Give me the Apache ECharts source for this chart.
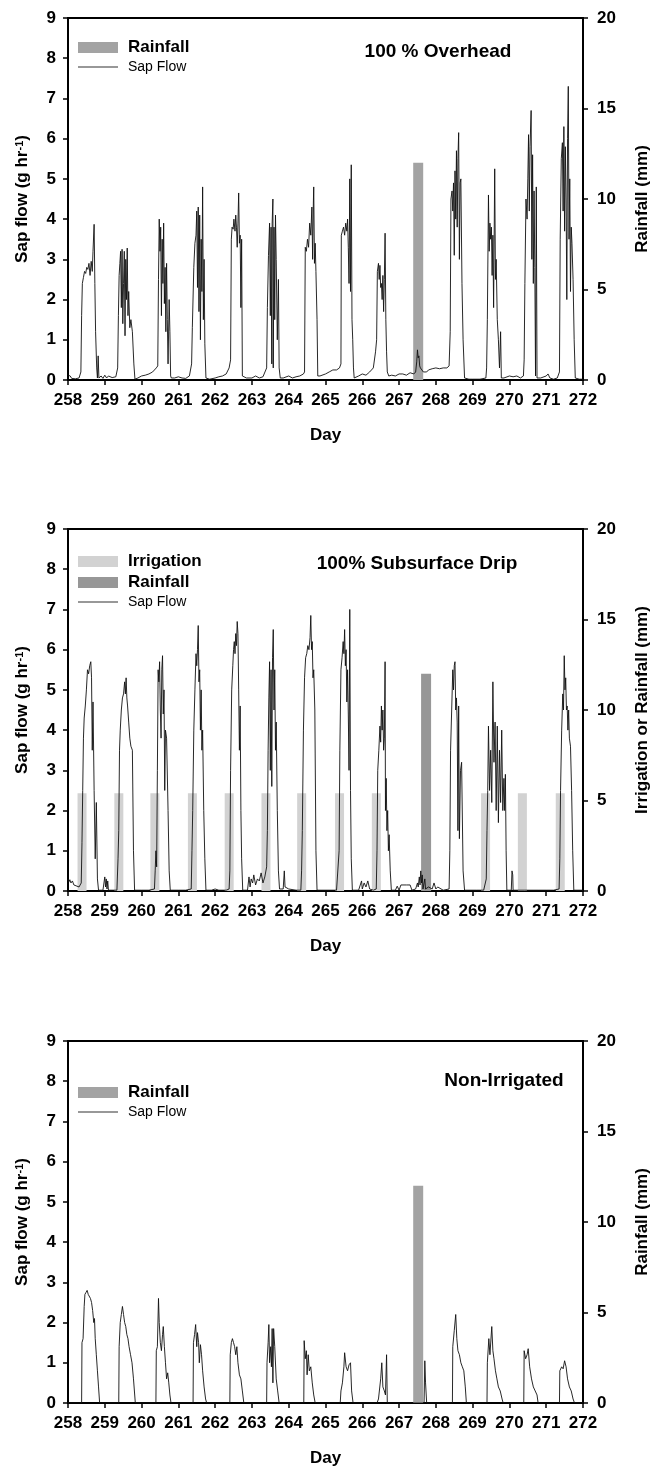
<!DOCTYPE html>
<html>
<head>
<meta charset="utf-8">
<script src="https://cdn.jsdelivr.net/npm/echarts@6/dist/echarts.min.js"></script>
<style>
  html, body { margin: 0; padding: 0; background: #fff; }
  #chart { width: 661px; height: 1468px; }
</style>
</head>
<body>
<div id="chart"></div>
<script>
// axis ranges / ticks
var dayRange = [258, 272];
var flowRange = [0, 9];
var mmRange = [0, 20];
var mmStep = 5;

// bars (mm), [day, value]
var rainOverhead = [[267.52, 12]];
var rainDrip = [[267.6, 12]];
var irrigDrip = [
    [258.53, 5.4], [259.53, 5.4], [260.51, 5.4], [261.53, 5.4], [262.53, 5.4], [263.53, 5.4],
    [264.5, 5.4], [265.53, 5.4], [266.53, 5.4], [269.5, 5.4], [270.5, 5.4], [271.53, 5.4]
];
var rainNonIrr = [[267.52, 12]];

// sap flow (g/hr), [day, value]
var overheadSap = [
[258.00,0.12],[258.03,0.08],[258.06,0.1],[258.1,0.04],[258.2,0.03],[258.3,0.05],
[258.35,0.2],[258.37,1.6],[258.39,2.4],[258.42,2.55],[258.45,2.7],[258.48,2.65],[258.51,2.8],[258.54,2.75],[258.57,2.9],[258.60,2.6],[258.63,2.95],[258.66,2.7],[258.68,3.2],[258.71,3.87],[258.73,2.4],[258.75,1.2],[258.78,0.3],[258.80,0.05],[258.82,0.6],[258.84,0.05],
[258.9,0.1],[258.95,0.04],[259.0,0.12],[259.05,0.05],[259.1,0.1],[259.2,0.06],[259.3,0.08],
[259.35,0.3],[259.37,1.6],[259.39,2.6],[259.41,2.9],[259.43,3.2],[259.45,1.8],[259.47,3.25],[259.49,1.4],[259.51,2.4],[259.53,3.2],[259.55,1.1],[259.57,3.0],[259.59,2.0],[259.61,3.28],[259.63,1.6],[259.65,2.2],[259.68,1.3],[259.71,1.5],[259.75,1.2],[259.79,0.4],[259.82,0.02],
[259.9,0.05],[260.0,0.1],[260.1,0.12],[260.2,0.15],[260.3,0.2],[260.4,0.3],
[260.44,0.35],[260.46,2.5],[260.48,4.0],[260.50,3.2],[260.52,3.8],[260.54,1.6],[260.56,3.5],[260.58,2.4],[260.60,3.9],[260.62,1.9],[260.64,2.8],[260.66,1.2],[260.68,2.9],[260.70,1.5],[260.72,0.4],[260.75,2.0],[260.77,1.2],[260.79,0.1],[260.81,0.05],
[260.9,0.05],[261.0,0.08],[261.1,0.05],[261.2,0.04],[261.3,0.1],
[261.36,0.4],[261.38,1.3],[261.42,2.8],[261.45,3.4],[261.48,3.6],[261.50,4.2],[261.52,2.3],[261.54,4.3],[261.56,1.7],[261.58,4.1],[261.60,1.0],[261.62,3.5],[261.64,2.2],[261.66,4.8],[261.68,1.5],[261.70,3.0],[261.72,0.9],[261.75,0.05],
[261.85,0.02],[262.0,0.05],[262.1,0.08],[262.2,0.1],[262.3,0.15],[262.38,0.3],
[262.42,0.5],[262.44,3.5],[262.46,3.8],[262.49,3.75],[262.51,4.0],[262.54,3.7],[262.56,4.1],[262.58,3.8],[262.60,3.3],[262.62,3.9],[262.64,4.65],[262.66,3.4],[262.68,3.6],[262.70,1.8],[262.72,3.5],[262.74,0.1],
[262.85,0.05],[263.0,0.05],[263.1,0.1],[263.2,0.05],[263.3,0.08],
[263.40,0.3],[263.42,1.8],[263.45,3.1],[263.48,3.9],[263.50,1.6],[263.52,3.8],[263.54,0.4],[263.55,3.9],[263.57,4.5],[263.58,0.3],[263.60,3.8],[263.62,1.5],[263.64,4.1],[263.66,3.0],[263.69,1.0],[263.72,2.5],[263.74,0.3],[263.77,0.05],
[263.85,0.05],[264.0,0.1],[264.1,0.05],[264.2,0.08],[264.3,0.1],[264.4,0.15],
[264.43,0.2],[264.45,3.3],[264.48,3.2],[264.51,3.5],[264.54,3.3],[264.57,3.9],[264.60,3.6],[264.63,4.3],[264.65,3.0],[264.67,4.4],[264.68,4.8],[264.70,2.9],[264.72,3.4],[264.74,2.7],[264.77,1.5],[264.79,0.1],
[264.85,0.1],[264.9,0.12],[265.0,0.15],[265.1,0.2],[265.2,0.25],[265.3,0.25],[265.38,0.3],
[265.42,0.4],[265.43,3.6],[265.46,3.7],[265.49,3.8],[265.52,3.6],[265.55,3.9],[265.58,3.7],[265.60,4.0],[265.62,3.3],[265.64,2.4],[265.66,5.0],[265.68,2.2],[265.70,5.35],[265.72,1.5],[265.74,1.0],[265.76,0.3],[265.78,0.05],
[265.9,0.1],[266.0,0.15],[266.1,0.12],[266.2,0.2],[266.3,0.3],[266.36,0.7],
[266.39,1.0],[266.41,2.7],[266.44,2.9],[266.46,2.5],[266.48,2.85],[266.50,2.3],[266.52,2.4],[266.54,2.0],[266.56,2.6],[266.58,1.7],[266.60,2.5],[266.62,3.65],[266.64,1.5],[266.66,0.7],[266.68,0.2],[266.72,0.1],
[266.8,0.12],[266.9,0.1],[267.0,0.15],[267.1,0.15],[267.2,0.12],[267.3,0.18],[267.4,0.15],
[267.45,0.2],[267.48,0.45],[267.50,0.75],[267.52,0.55],[267.54,0.6],[267.56,0.35],[267.58,0.3],[267.62,0.25],[267.66,0.2],[267.7,0.22],[267.75,0.2],[267.8,0.25],[267.9,0.28],[268.0,0.3],[268.1,0.28],[268.2,0.3],[268.3,0.3],[268.36,0.35],
[268.39,1.2],[268.41,4.5],[268.44,4.7],[268.46,4.2],[268.48,4.9],[268.50,3.1],[268.52,5.2],[268.54,4.0],[268.56,5.7],[268.58,3.8],[268.60,5.5],[268.62,6.15],[268.64,3.0],[268.66,4.9],[268.68,5.0],[268.71,2.4],[268.74,1.0],[268.78,0.05],
[268.9,0.02],[269.0,0.02],[269.2,0.02],[269.36,0.05],
[269.38,0.3],[269.40,1.5],[269.43,4.6],[269.45,3.2],[269.47,3.9],[269.49,3.5],[269.51,3.8],[269.53,2.6],[269.55,3.6],[269.57,1.8],[269.60,5.25],[269.62,2.5],[269.64,3.0],[269.67,1.5],[269.70,1.0],[269.73,0.3],[269.76,1.2],[269.78,0.05],
[269.85,0.05],[270.0,0.1],[270.1,0.08],[270.2,0.1],[270.3,0.05],[270.38,0.1],
[270.40,0.5],[270.42,2.4],[270.45,4.5],[270.48,4.0],[270.50,5.0],[270.52,6.1],[270.54,4.2],[270.56,5.8],[270.59,6.7],[270.61,3.0],[270.63,5.6],[270.65,2.4],[270.67,4.7],[270.69,2.8],[270.71,0.1],[270.73,4.8],[270.75,0.05],
[270.85,0.05],[271.0,0.1],[271.05,0.15],[271.1,0.05],[271.2,0.02],[271.3,0.05],
[271.36,0.2],[271.38,3.5],[271.41,5.5],[271.44,5.9],[271.46,4.2],[271.48,6.3],[271.50,3.7],[271.52,5.8],[271.54,4.5],[271.56,2.0],[271.58,6.0],[271.60,7.3],[271.62,3.5],[271.64,5.0],[271.66,2.2],[271.68,3.8],[271.70,3.4],[271.73,2.5],[271.76,1.0],[271.79,0.05],[271.9,0.02],[272.0,0.02]
];

var dripSap = [
[258.00,0.3],[258.02,0.22],[258.05,0.28],[258.08,0.2],[258.12,0.25],[258.16,0.15],[258.2,0.12],[258.3,0.1],
[258.36,0.2],[258.38,1.2],[258.40,2.5],[258.42,3.8],[258.44,4.3],[258.47,4.6],[258.50,5.0],[258.53,5.5],[258.56,5.4],[258.59,5.6],[258.62,5.7],[258.64,5.3],[258.66,3.5],[258.68,4.7],[258.71,2.5],[258.74,0.8],[258.77,2.2],[258.80,0.3],[258.83,0.02],
[258.95,0.02],[258.98,0.05],[259.0,0.35],[259.02,0.1],[259.04,0.3],[259.06,0.05],[259.08,0.25],[259.1,0.02],[259.2,0.02],[259.33,0.02],
[259.36,0.8],[259.38,1.5],[259.40,3.5],[259.42,4.0],[259.45,4.5],[259.48,4.8],[259.51,4.9],[259.54,5.2],[259.56,4.9],[259.58,5.3],[259.60,4.8],[259.62,4.6],[259.65,4.2],[259.68,3.8],[259.71,3.6],[259.75,3.5],[259.78,1.0],[259.81,0.02],
[260.0,0.02],[260.2,0.02],[260.35,0.05],
[260.37,0.5],[260.39,1.0],[260.41,0.6],[260.43,3.0],[260.45,5.5],[260.47,5.2],[260.49,5.7],[260.51,4.5],[260.53,3.8],[260.55,5.5],[260.57,5.85],[260.59,4.4],[260.61,5.0],[260.63,2.5],[260.65,4.0],[260.68,3.8],[260.72,2.0],[260.75,0.5],[260.78,0.02],
[261.0,0.02],[261.2,0.02],[261.35,0.05],
[261.37,1.0],[261.39,2.0],[261.42,4.0],[261.45,5.0],[261.48,5.9],[261.50,5.6],[261.52,6.0],[261.54,6.6],[261.56,5.2],[261.58,5.5],[261.60,4.0],[261.62,5.0],[261.64,3.5],[261.66,4.0],[261.69,2.0],[261.72,0.8],[261.75,0.02],
[261.9,0.02],[262.0,0.05],[262.1,0.02],[262.3,0.02],[262.38,0.05],
[262.40,0.5],[262.42,3.0],[262.45,5.0],[262.48,5.6],[262.50,6.0],[262.52,6.2],[262.54,5.9],[262.56,6.4],[262.58,6.1],[262.60,6.7],[262.62,6.4],[262.64,5.0],[262.66,3.5],[262.68,4.6],[262.70,2.0],[262.72,0.8],[262.75,0.02],
[262.88,0.02],[262.92,0.35],[262.95,0.1],[262.98,0.3],[263.02,0.2],[263.05,0.4],[263.1,0.15],[263.15,0.3],[263.2,0.25],[263.25,0.45],[263.3,0.2],[263.35,0.35],
[263.40,0.6],[263.42,1.5],[263.44,3.5],[263.46,4.8],[263.48,5.7],[263.50,3.0],[263.52,5.5],[263.54,2.6],[263.56,5.8],[263.58,6.5],[263.60,4.5],[263.62,5.5],[263.64,3.5],[263.66,4.2],[263.69,2.0],[263.72,0.5],[263.75,0.05],
[263.85,0.05],[263.88,0.5],[263.9,0.1],[264.0,0.05],[264.2,0.02],[264.33,0.02],
[264.35,0.5],[264.37,1.5],[264.40,4.0],[264.43,5.3],[264.46,5.8],[264.49,5.9],[264.52,6.1],[264.55,6.0],[264.58,6.3],[264.60,6.85],[264.62,6.0],[264.64,6.2],[264.66,5.3],[264.68,5.5],[264.71,4.5],[264.74,1.0],[264.77,0.02],
[264.9,0.02],[265.1,0.02],[265.3,0.02],[265.35,0.05],
[265.37,1.0],[265.39,3.5],[265.42,5.5],[265.45,5.8],[265.48,6.2],[265.50,5.9],[265.52,6.5],[265.54,5.6],[265.56,6.0],[265.58,4.7],[265.60,5.5],[265.62,4.4],[265.64,3.0],[265.66,7.0],[265.68,2.5],[265.70,0.8],[265.73,0.02],
[265.9,0.02],[265.98,0.25],[266.0,0.05],[266.05,0.2],[266.1,0.1],[266.15,0.25],[266.2,0.05],[266.3,0.02],[266.38,0.05],
[266.40,1.0],[266.42,3.0],[266.45,3.5],[266.48,4.1],[266.50,3.7],[266.52,4.6],[266.54,4.0],[266.56,4.5],[266.58,3.5],[266.60,3.8],[266.62,5.7],[266.63,2.0],[266.65,2.8],[266.67,1.5],[266.69,2.0],[266.71,1.0],[266.73,1.4],[266.76,0.5],[266.79,0.02],
[266.9,0.02],[266.95,0.12],[267.0,0.02],[267.05,0.15],[267.1,0.15],[267.2,0.15],[267.3,0.15],[267.35,0.02],
[267.45,0.05],[267.5,0.2],[267.52,0.1],[267.55,0.35],[267.57,0.15],[267.59,0.5],[267.61,0.2],[267.63,0.4],[267.65,0.05],[267.7,0.3],[267.72,0.05],[267.8,0.1],[267.9,0.05],[267.95,0.2],[268.0,0.05],[268.05,0.1],[268.2,0.02],[268.36,0.05],
[268.38,1.0],[268.40,3.5],[268.43,4.5],[268.46,5.5],[268.48,5.0],[268.50,5.6],[268.52,5.7],[268.54,4.5],[268.56,4.8],[268.58,4.2],[268.60,1.5],[268.62,4.6],[268.64,1.3],[268.67,3.0],[268.70,3.2],[268.74,0.5],[268.78,0.02],
[268.9,0.02],[269.1,0.02],[269.3,0.02],[269.35,0.05],
[269.37,0.3],[269.39,1.5],[269.41,2.5],[269.43,4.1],[269.46,2.5],[269.49,3.5],[269.52,2.2],[269.55,5.2],[269.58,3.2],[269.61,4.2],[269.64,2.0],[269.67,4.1],[269.70,1.7],[269.73,3.5],[269.76,2.2],[269.79,4.0],[269.82,2.0],[269.85,2.8],[269.87,2.0],[269.89,2.9],[269.91,1.0],[269.93,0.02],
[270.05,0.02],[270.07,0.5],[270.09,0.4],[270.1,0.02],[270.4,0.02],[270.8,0.02],[271.0,0.02],[271.2,0.02],[271.35,0.05],
[271.37,0.8],[271.39,2.5],[271.42,4.0],[271.45,4.9],[271.47,4.5],[271.49,5.85],[271.51,5.0],[271.53,5.3],[271.55,4.5],[271.57,4.6],[271.59,4.0],[271.61,4.5],[271.63,3.8],[271.66,3.6],[271.69,2.5],[271.72,1.0],[271.75,0.02],[272.0,0.02]
];

var nonIrrSap = [
[258.0,0],[258.37,0],[258.38,1.5],[258.41,1.6],[258.44,2.4],[258.46,2.7],[258.49,2.75],[258.52,2.8],[258.55,2.7],[258.58,2.72],[258.61,2.6],[258.64,2.5],[258.67,2.3],[258.70,2.0],[258.72,2.1],[258.74,1.6],[258.77,1.2],[258.80,0.8],[258.83,0.4],[258.86,0],
[259.38,0],[259.39,1.4],[259.42,2.0],[259.45,2.2],[259.48,2.4],[259.51,2.2],[259.54,2.0],[259.57,1.9],[259.60,1.7],[259.63,1.6],[259.66,1.4],[259.70,1.2],[259.74,1.0],[259.78,0.6],[259.83,0],
[260.39,0],[260.40,1.3],[260.43,1.4],[260.46,2.6],[260.48,2.0],[260.51,1.5],[260.54,1.3],[260.57,1.7],[260.59,1.9],[260.62,1.4],[260.65,1.0],[260.68,0.6],[260.71,0.75],[260.74,0.5],[260.77,0.2],[260.80,0],
[261.40,0],[261.41,1.5],[261.44,1.7],[261.47,1.95],[261.50,1.4],[261.52,1.75],[261.55,1.5],[261.57,1.0],[261.60,1.45],[261.63,1.2],[261.66,0.8],[261.70,0.4],[261.74,0.1],[261.77,0],
[262.40,0],[262.41,1.2],[262.44,1.5],[262.47,1.6],[262.50,1.5],[262.53,1.4],[262.56,1.2],[262.59,1.4],[262.62,1.0],[262.66,0.7],[262.70,0.6],[262.74,0.3],[262.78,0],
[263.40,0],[263.41,1.0],[263.44,1.5],[263.46,1.95],[263.48,1.0],[263.51,1.4],[263.53,0.9],[263.55,1.85],[263.57,0.5],[263.59,1.85],[263.62,1.4],[263.66,0.6],[263.70,0.3],[263.74,0],
[264.41,0],[264.42,1.55],[264.45,1.1],[264.48,1.3],[264.50,0.7],[264.53,1.2],[264.56,0.8],[264.60,0.9],[264.64,0.5],[264.68,0.2],[264.72,0],
[265.40,0],[265.42,0.3],[265.46,0.5],[265.50,0.9],[265.52,1.25],[265.56,0.9],[265.60,0.8],[265.64,0.95],[265.68,1.0],[265.71,0.3],[265.75,0],
[266.40,0],[266.44,0.1],[266.50,0.6],[266.53,1.0],[266.56,0.4],[266.60,0.3],[266.63,0.2],[266.66,1.2],[266.68,0],
[267.68,0],[267.70,1.05],[267.72,0.5],[267.75,0],
[268.45,0],[268.46,1.4],[268.50,1.8],[268.54,2.2],[268.57,1.6],[268.60,1.3],[268.64,1.2],[268.68,1.0],[268.72,0.9],[268.76,0.8],[268.80,0.4],[268.83,0],
[269.39,0],[269.40,1.0],[269.44,1.6],[269.47,1.2],[269.52,1.9],[269.55,1.3],[269.58,1.1],[269.62,0.8],[269.66,0.6],[269.70,0.4],[269.75,0.3],[269.80,0.1],[269.83,0],
[270.39,0],[270.40,1.3],[270.44,1.1],[270.48,1.2],[270.51,1.35],[270.55,0.9],[270.60,0.6],[270.65,0.4],[270.70,0.3],[270.75,0.2],[270.78,0],
[271.36,0],[271.37,0.8],[271.42,0.9],[271.46,0.85],[271.50,1.05],[271.54,0.9],[271.58,0.6],[271.63,0.4],[271.68,0.3],[271.73,0.1],[271.77,0],[272.0,0]
];

var FONT = '"Liberation Sans", Arial, Helvetica, sans-serif';
var gridTops = [18, 529, 1041];

function makeX(i) {
    return {
        type: 'value', gridIndex: i,
        min: dayRange[0], max: dayRange[1], interval: 1,
        name: 'Day', nameLocation: 'middle', nameGap: 47,
        nameTextStyle: { fontFamily: FONT, fontWeight: 'bold', fontSize: 17, color: '#000' },
        axisLine: { show: true, lineStyle: { color: '#000', width: 2 } },
        axisTick: { show: true, length: 5, lineStyle: { color: '#000', width: 1.5 } },
        axisLabel: { fontFamily: FONT, fontWeight: 'bold', fontSize: 17, color: '#000', margin: 12 },
        splitLine: { show: false }
    };
}

function makeYLeft(i) {
    return {
        type: 'value', gridIndex: i, position: 'left',
        min: flowRange[0], max: flowRange[1], interval: 1,
        name: 'Sap flow (g hr{sup|-1})', nameLocation: 'middle', nameGap: 37, nameRotate: 90,
        nameTextStyle: {
            fontFamily: FONT, fontWeight: 'bold', fontSize: 17, color: '#000',
            rich: { sup: { fontFamily: FONT, fontWeight: 'bold', fontSize: 11, color: '#000', verticalAlign: 'top', lineHeight: 17 } }
        },
        axisLine: { show: true, lineStyle: { color: '#000', width: 2 } },
        axisTick: { show: true, length: 5, lineStyle: { color: '#000', width: 1.5 } },
        axisLabel: { fontFamily: FONT, fontWeight: 'bold', fontSize: 17, color: '#000', margin: 12 },
        splitLine: { show: false }
    };
}

function makeYRight(i, title) {
    return {
        type: 'value', gridIndex: i, position: 'right',
        min: mmRange[0], max: mmRange[1], interval: mmStep,
        name: title, nameLocation: 'middle', nameGap: 51, nameRotate: 90,
        nameTextStyle: { fontFamily: FONT, fontWeight: 'bold', fontSize: 17, color: '#000' },
        axisLine: { show: true, lineStyle: { color: '#000', width: 2 } },
        axisTick: { show: true, length: 5, lineStyle: { color: '#000', width: 1.5 } },
        axisLabel: { fontFamily: FONT, fontWeight: 'bold', fontSize: 17, color: '#000', margin: 14 },
        splitLine: { show: false }
    };
}

function sapSeries(i, data) {
    return {
        name: 'Sap Flow', type: 'line', xAxisIndex: i, yAxisIndex: i * 2,
        data: data, symbol: 'none', showSymbol: false, z: 5,
        itemStyle: { color: '#111' },
        lineStyle: { color: '#111', width: 0.9 }
    };
}

function barSeries(i, name, data, color, width) {
    return {
        name: name, type: 'bar', xAxisIndex: i, yAxisIndex: i * 2 + 1,
        data: data, barWidth: width, z: 2,
        itemStyle: { color: color }
    };
}

function legendBox(i, items) {
    return {
        left: 78, top: gridTops[i] + 21 + (i === 2 ? 22 : 0) + (i === 1 ? 3 : 0),
        orient: 'vertical', itemWidth: 40, itemHeight: 11, itemGap: 4,
        padding: 0,
        textStyle: { fontFamily: FONT, color: '#000', padding: [0, 0, 0, 5] },
        data: items
    };
}

// thin horizontal stroke for the line legend entry (corner specks fix the 40x11 box)
var lineIcon = 'path://M0,0L0.01,0L0.01,0.01ZM0,5L40,5L40,6L0,6ZM40,11L39.99,11L39.99,10.99Z';
var sapLegend = { name: 'Sap Flow', icon: lineIcon, itemStyle: { color: '#333' },
    textStyle: { fontWeight: 'normal', fontSize: 14 } };
var titleStyle = { fontFamily: FONT, fontWeight: 'bold', fontSize: 19, color: '#000' };

var chart = echarts.init(document.getElementById('chart'));
chart.setOption({
    animation: false,
    backgroundColor: '#fff',
    title: [
        { text: '100 % Overhead', left: 433, top: 37, textAlign: 'center', textStyle: titleStyle },
        { text: '100% Subsurface Drip', left: 412, top: 549, textAlign: 'center', textStyle: titleStyle },
        { text: 'Non-Irrigated', left: 499, top: 1066, textAlign: 'center', textStyle: titleStyle }
    ],
    legend: [
        legendBox(0, [
            { name: 'Rainfall', icon: 'rect', itemStyle: { color: '#a3a3a3' }, textStyle: { fontWeight: 'bold', fontSize: 17 } },
            sapLegend
        ]),
        legendBox(1, [
            { name: 'Irrigation', icon: 'rect', itemStyle: { color: '#d2d2d2' }, textStyle: { fontWeight: 'bold', fontSize: 17 } },
            { name: 'Rainfall', icon: 'rect', itemStyle: { color: '#979797' }, textStyle: { fontWeight: 'bold', fontSize: 17 } },
            sapLegend
        ]),
        legendBox(2, [
            { name: 'Rainfall', icon: 'rect', itemStyle: { color: '#a3a3a3' }, textStyle: { fontWeight: 'bold', fontSize: 17 } },
            sapLegend
        ])
    ],
    grid: gridTops.map(function (t) {
        return { left: 68, top: t, width: 515, height: 362, show: true, borderColor: '#000', borderWidth: 2, backgroundColor: 'transparent' };
    }),
    xAxis: [makeX(0), makeX(1), makeX(2)],
    yAxis: [
        makeYLeft(0), makeYRight(0, 'Rainfall (mm)'),
        makeYLeft(1), makeYRight(1, 'Irrigation or Rainfall (mm)'),
        makeYLeft(2), makeYRight(2, 'Rainfall (mm)')
    ],
    series: [
        barSeries(0, 'Rainfall', rainOverhead, '#a3a3a3', 10),
        sapSeries(0, overheadSap),
        barSeries(1, 'Irrigation', irrigDrip, '#d2d2d2', 9),
        barSeries(1, 'Rainfall', rainDrip, '#979797', 10),
        sapSeries(1, dripSap),
        barSeries(2, 'Rainfall', rainNonIrr, '#a3a3a3', 10),
        sapSeries(2, nonIrrSap)
    ]
});
</script>
</body>
</html>
